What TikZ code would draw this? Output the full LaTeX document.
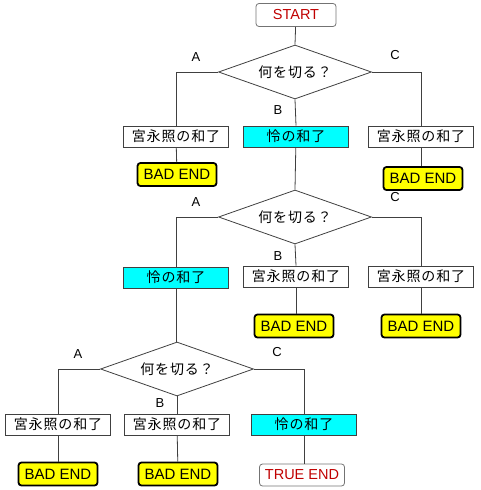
\documentclass[tikz,border=0pt]{standalone}
\usepackage{fontspec}
\setmainfont{Liberation Sans}
\newfontfamily\jp[LetterSpace=6]{Noto Sans CJK JP}
\usetikzlibrary{shapes.geometric}
\definecolor{endred}{RGB}{192,0,0}
\definecolor{reicyan}{RGB}{0,255,255}
\definecolor{badyellow}{RGB}{255,255,0}

\begin{document}
\begin{tikzpicture}[x=1pt, y=-1pt, line width=0.8pt, draw=black!75,
    every node/.style={inner sep=0pt, font=\fontsize{14.5}{16}\selectfont},
    hanabox/.style={draw=black!75, minimum width=105pt, minimum height=21pt, font=\jp\fontsize{14}{16}\selectfont},
    reibox/.style={hanabox, fill=reicyan},
    badend/.style={draw=black, rounded corners=3pt, line width=1.8pt, fill=badyellow, minimum width=79pt, minimum height=23pt, font=\fontsize{15}{16}\selectfont},
    terminal/.style={draw=black!55, rounded corners=3pt, text=endred, minimum width=80pt, minimum height=23pt},
    choice/.style={draw=black!75, diamond, aspect=2.8, minimum width=153pt, minimum height=54pt, font=\jp\fontsize{14}{16}\selectfont},
    branch/.style={font=\fontsize{13}{14}\selectfont}]
    \useasboundingbox (0,0) rectangle (480,490);

    \node[terminal] (start) at (296,15) {START};

    \node[choice] (q1) at (295,72) {何を切る？};
    \node[hanabox] (q1a) at (176,136.5) {宮永照の和了};
    \node[reibox] (q1b) at (296,136.5) {怜の和了};
    \node[hanabox] (q1c) at (421,136.5) {宮永照の和了};
    \node[badend] (q1aend) at (177,174.5) {BAD END};
    \node[badend] (q1cend) at (423,178.5) {BAD END};
    \node[branch] at (196,57) {A};
    \node[branch] at (278,110) {B};
    \node[branch] at (395,55) {C};

    \node[choice] (q2) at (295,217) {何を切る？};
    \node[reibox] (q2a) at (176,277.5) {怜の和了};
    \node[hanabox] (q2b) at (296,276.5) {宮永照の和了};
    \node[hanabox] (q2c) at (421,276.5) {宮永照の和了};
    \node[badend] (q2bend) at (294,326) {BAD END};
    \node[badend] (q2cend) at (421,326) {BAD END};
    \node[branch] at (196,202) {A};
    \node[branch] at (278,256) {B};
    \node[branch] at (395,197) {C};

    \node[choice] (q3) at (177,369) {何を切る？};
    \node[hanabox] (q3a) at (58,424.5) {宮永照の和了};
    \node[hanabox] (q3b) at (177,424.5) {宮永照の和了};
    \node[reibox] (q3c) at (304,424.5) {怜の和了};
    \node[badend] (q3aend) at (58,474) {BAD END};
    \node[badend] (q3bend) at (178,474) {BAD END};
    \node[terminal, minimum width=85pt, minimum height=22pt] (trueend) at (302,475) {TRUE END};
    \node[branch] at (78,354) {A};
    \node[branch] at (160,403) {B};
    \node[branch] at (277,352) {C};

    \draw (start) -- (q1.north);
    \draw (q1.west) -| (q1a.north);
    \draw (q1.south) -- (q1b.north);
    \draw (q1.east) -| (q1c.north);
    \draw (q1a) -- (q1aend);
    \draw (q1c.south) -- (q1c.south |- q1cend.north);
    \draw (q1b) -- (q2.north);

    \draw (q2.west) -| (q2a.north);
    \draw (q2.south) -- (q2b.north);
    \draw (q2.east) -| (q2c.north);
    \draw (q2b.south) -- (q2b.south |- q2bend.north);
    \draw (q2c) -- (q2cend);
    \draw (q2a.south) -- (q2a.south |- q3.north);

    \draw (q3.west) -| (q3a.north);
    \draw (q3.south) -- (q3b.north);
    \draw (q3.east) -| (q3c.north);
    \draw (q3a) -- (q3aend);
    \draw (q3b) -- (q3bend);
    \draw (q3c.south) -- (q3c.south |- trueend.north);
\end{tikzpicture}
\end{document}
